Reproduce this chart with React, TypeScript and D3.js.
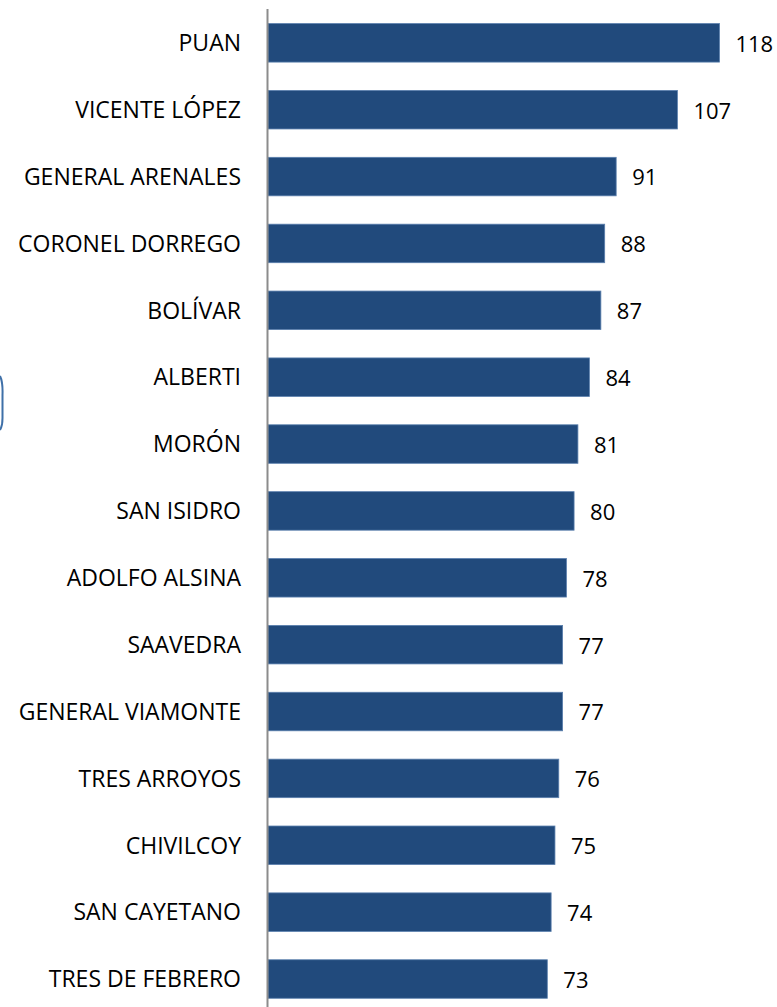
import React from "react";
import * as d3 from "d3";

const categories = [
  "PUAN", "VICENTE LÓPEZ", "GENERAL ARENALES", "CORONEL DORREGO", "BOLÍVAR",
  "ALBERTI", "MORÓN", "SAN ISIDRO", "ADOLFO ALSINA", "SAAVEDRA",
  "GENERAL VIAMONTE", "TRES ARROYOS", "CHIVILCOY", "SAN CAYETANO", "TRES DE FEBRERO",
];
const values = [118, 107, 91, 88, 87, 84, 81, 80, 78, 77, 77, 76, 75, 74, 73];

const W = 777;
const H = 1007;

export default function App() {
  const x = d3.scaleLinear().domain([0, 120]).range([268, 268 + 120 * 3.826]);
  const y = d3
    .scaleBand<string>()
    .domain(categories)
    .range([9.4, 9.4 + 66.87 * categories.length])
    .paddingInner(0.424)
    .paddingOuter(0.212);
  const font = "'Open Sans', 'Noto Sans', sans-serif";
  return (
    <svg
      width={W}
      height={H}
      style={{ position: "absolute", left: 0, top: 0, background: "#fff" }}
      fontFamily={font}
    >
      <path d="M0,376 Q3,382 2.5,395 L2.5,418 Q2.5,426 0,430" fill="none" stroke="#3f70a8" strokeWidth={2} />
      {categories.map((c, i) => {
        const yy = y(c)!;
        const bw = y.bandwidth();
        return (
          <g key={c}>
            <rect
              x={x(0)}
              y={yy}
              width={x(values[i]) - x(0)}
              height={bw}
              fill="#214a7c"
              stroke="#5a7fad"
              strokeWidth={0.8}
            />
            <text
              x={241}
              y={yy + bw / 2}
              dy="0.36em"
              textAnchor="end"
              fontSize={23}
              fill="#000"
            >
              {c}
            </text>
            <text
              x={x(values[i]) + 16}
              y={yy + bw / 2 + 1}
              dy="0.36em"
              fontSize={22}
              fill="#000"
            >
              {values[i]}
            </text>
          </g>
        );
      })}
      <line x1={x(0) - 0.5} x2={x(0) - 0.5} y1={9} y2={H} stroke="#8c8c8c" strokeWidth={2} />
    </svg>
  );
}
